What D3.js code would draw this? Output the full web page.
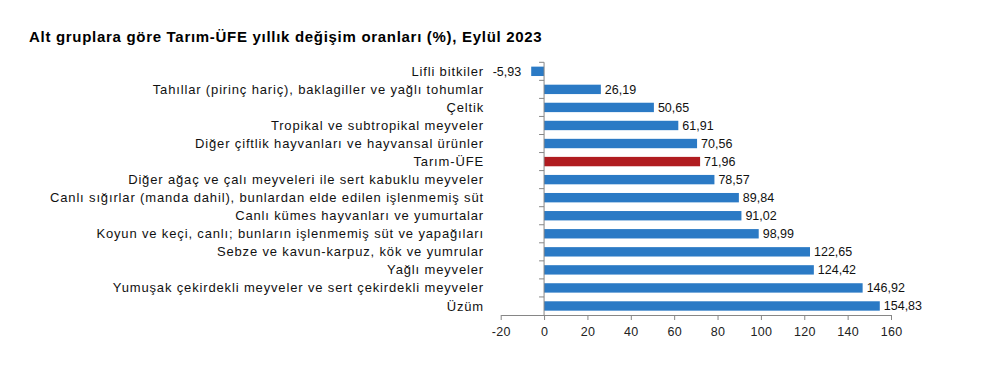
<!DOCTYPE html>
<html>
<head>
    <script type="text/javascript" src="https://d3js.org/d3.v7.min.js"></script>
    <style>
        body { margin: 0; background: #fff; font-family: Arial, "Liberation Sans", sans-serif; }
    </style>
</head>
<body>
    <div id="svgcontainer"></div>
    <script>
        var width = 1002;
        var height = 371;

        var categories = [
            "Lifli bitkiler",
            "Tahıllar (pirinç hariç), baklagiller ve yağlı tohumlar",
            "Çeltik",
            "Tropikal ve subtropikal meyveler",
            "Diğer çiftlik hayvanları ve hayvansal ürünler",
            "Tarım-ÜFE",
            "Diğer ağaç ve çalı meyveleri ile sert kabuklu meyveler",
            "Canlı sığırlar (manda dahil), bunlardan elde edilen işlenmemiş süt",
            "Canlı kümes hayvanları ve yumurtalar",
            "Koyun ve keçi, canlı; bunların işlenmemiş süt ve yapağıları",
            "Sebze ve kavun-karpuz, kök ve yumrular",
            "Yağlı meyveler",
            "Yumuşak çekirdekli meyveler ve sert çekirdekli meyveler",
            "Üzüm"
        ];
        var values = [-5.93, 26.19, 50.65, 61.91, 70.56, 71.96, 78.57, 89.84, 91.02, 98.99, 122.65, 124.42, 146.92, 154.83];
        var xTicks = [-20, 0, 20, 40, 60, 80, 100, 120, 140, 160];
        var highlight = "Tarım-ÜFE";

        var svg = d3.select("#svgcontainer")
            .append("svg")
            .attr("width", width)
            .attr("height", height);

        svg.append("text")
            .attr("x", 29)
            .attr("y", 42)
            .attr("font-size", 15)
            .attr("font-weight", "bold")
            .attr("letter-spacing", 0.7)
            .attr("fill", "#000")
            .text("Alt gruplara göre Tarım-ÜFE yıllık değişim oranları (%), Eylül 2023");

        var x = d3.scaleLinear().domain([-20, 160]).range([500.7, 891]);
        var y = d3.scaleBand().domain(categories).range([62.3, 315]).paddingInner(0.48).paddingOuter(0.24);

        var rows = categories.map(function (c, i) { return { name: c, value: values[i] }; });

        // bars
        svg.append("g").selectAll("rect")
            .data(rows)
            .join("rect")
            .attr("x", function (d) { return x(Math.min(0, d.value)); })
            .attr("width", function (d) { return Math.abs(x(d.value) - x(0)); })
            .attr("y", function (d) { return y(d.name); })
            .attr("height", y.bandwidth())
            .attr("fill", function (d) { return d.name === highlight ? "#B01C20" : "#2B7AC5"; });

        // x axis
        var xAxis = svg.append("g")
            .attr("transform", "translate(0," + 315 + ")")
            .call(d3.axisBottom(x).tickValues(xTicks).tickSize(5).tickSizeOuter(0).tickPadding(7)
                .tickFormat(function (d) { return String(d); }));
        xAxis.select(".domain").attr("stroke", "#868686");
        xAxis.selectAll(".tick line").attr("stroke", "#868686");
        xAxis.selectAll(".tick text")
            .attr("font-family", "Arial, 'Liberation Sans', sans-serif")
            .attr("font-size", 12.5)
            .attr("letter-spacing", 0.3)
            .attr("fill", "#222");

        // y axis line and band ticks
        var yLine = svg.append("g");
        yLine.append("line")
            .attr("x1", x(0)).attr("x2", x(0))
            .attr("y1", y.range()[0]).attr("y2", y.range()[1])
            .attr("stroke", "#868686");
        yLine.selectAll("line.bt")
            .data(categories)
            .join("line")
            .attr("class", "bt")
            .attr("x1", x(0) - 5).attr("x2", x(0))
            .attr("y1", function (d) { return y(d) - y.step() * y.paddingInner() / 2; })
            .attr("y2", function (d) { return y(d) - y.step() * y.paddingInner() / 2; })
            .attr("stroke", "#868686");

        // category labels
        svg.append("g").selectAll("text")
            .data(rows)
            .join("text")
            .attr("x", 484)
            .attr("y", function (d) { return y(d.name) + y.bandwidth() / 2; })
            .attr("dy", "0.35em")
            .attr("text-anchor", "end")
            .attr("font-size", 13)
            .attr("letter-spacing", 0.85)
            .attr("fill", "#111")
            .text(function (d) { return d.name; });

        // value labels
        var fmt = function (v) { return v.toFixed(2).replace(".", ","); };
        svg.append("g").selectAll("text")
            .data(rows)
            .join("text")
            .attr("x", function (d) { return d.value < 0 ? x(d.value) - 10 : x(d.value) + 4; })
            .attr("y", function (d) { return y(d.name) + y.bandwidth() / 2; })
            .attr("dy", "0.35em")
            .attr("text-anchor", function (d) { return d.value < 0 ? "end" : "start"; })
            .attr("font-size", 12.5)
            .attr("fill", "#111")
            .text(function (d) { return fmt(d.value); });
    </script>
</body>
</html>
